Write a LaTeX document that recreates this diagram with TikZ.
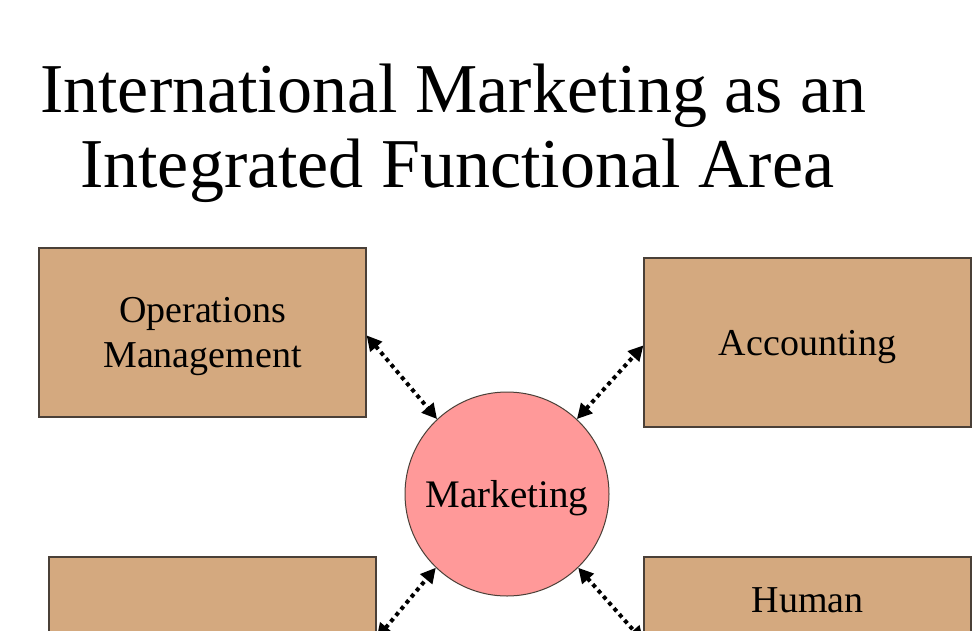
\documentclass[tikz,border=0pt]{standalone}
\usepackage{fontspec}
\setmainfont{Liberation Serif}
\usetikzlibrary{arrows.meta}
\definecolor{boxtan}{HTML}{D4A97F}
\definecolor{boxline}{HTML}{4A4038}
\definecolor{mktpink}{HTML}{FF9999}
\begin{document}
\begin{tikzpicture}[x=1pt,y=-1pt,
  titletext/.style={anchor=base west, inner sep=0pt, font=\fontsize{70}{80}\selectfont},
  funcbox/.style={draw=boxline, line width=1.2pt, fill=boxtan, minimum width=327pt, minimum height=169pt, inner sep=0pt, align=center, text depth=0pt, font=\fontsize{38}{45}\selectfont},
  hub/.style={circle, draw=boxline, line width=1pt, fill=mktpink, minimum size=204pt, inner sep=0pt, text depth=0pt, font=\fontsize{39}{45}\selectfont},
  link/.style={line width=4pt, dash pattern=on 4pt off 4pt, {Triangle[length=15pt,width=15pt]}-{Triangle[length=15pt,width=15pt]}}]
\useasboundingbox (0,0) rectangle (974,630);
\clip (0,0) rectangle (974,630);
\fill[white] (0,0) rectangle (974,630);
\node[titletext] (t1) at (40,112) {International Marketing as an};
\node[titletext] (t2) at (80,187) {Integrated Functional Area};
\node[funcbox] (om) at (202.5,332.5) {Operations\\Management};
\node[funcbox] (acc) at (807.5,342.5) {Accounting};
\node[funcbox] (fin) at (212.5,641.5) {};
\node[funcbox] (hr) at (807.5,641.5) {};
\node[anchor=base, inner sep=0pt, font=\fontsize{38}{45}\selectfont] (hrtext) at (807.5,612) {Human};
\node[hub] (mkt) at (507,494) {Marketing};
\draw[link] (om.-1) -- (mkt.133);
\draw[link] (mkt.47) -- (acc.181);
\draw[link] (fin.1) -- (mkt.-134);
\draw[link] (mkt.-46) -- (hr.180.5);
\end{tikzpicture}
\end{document}
